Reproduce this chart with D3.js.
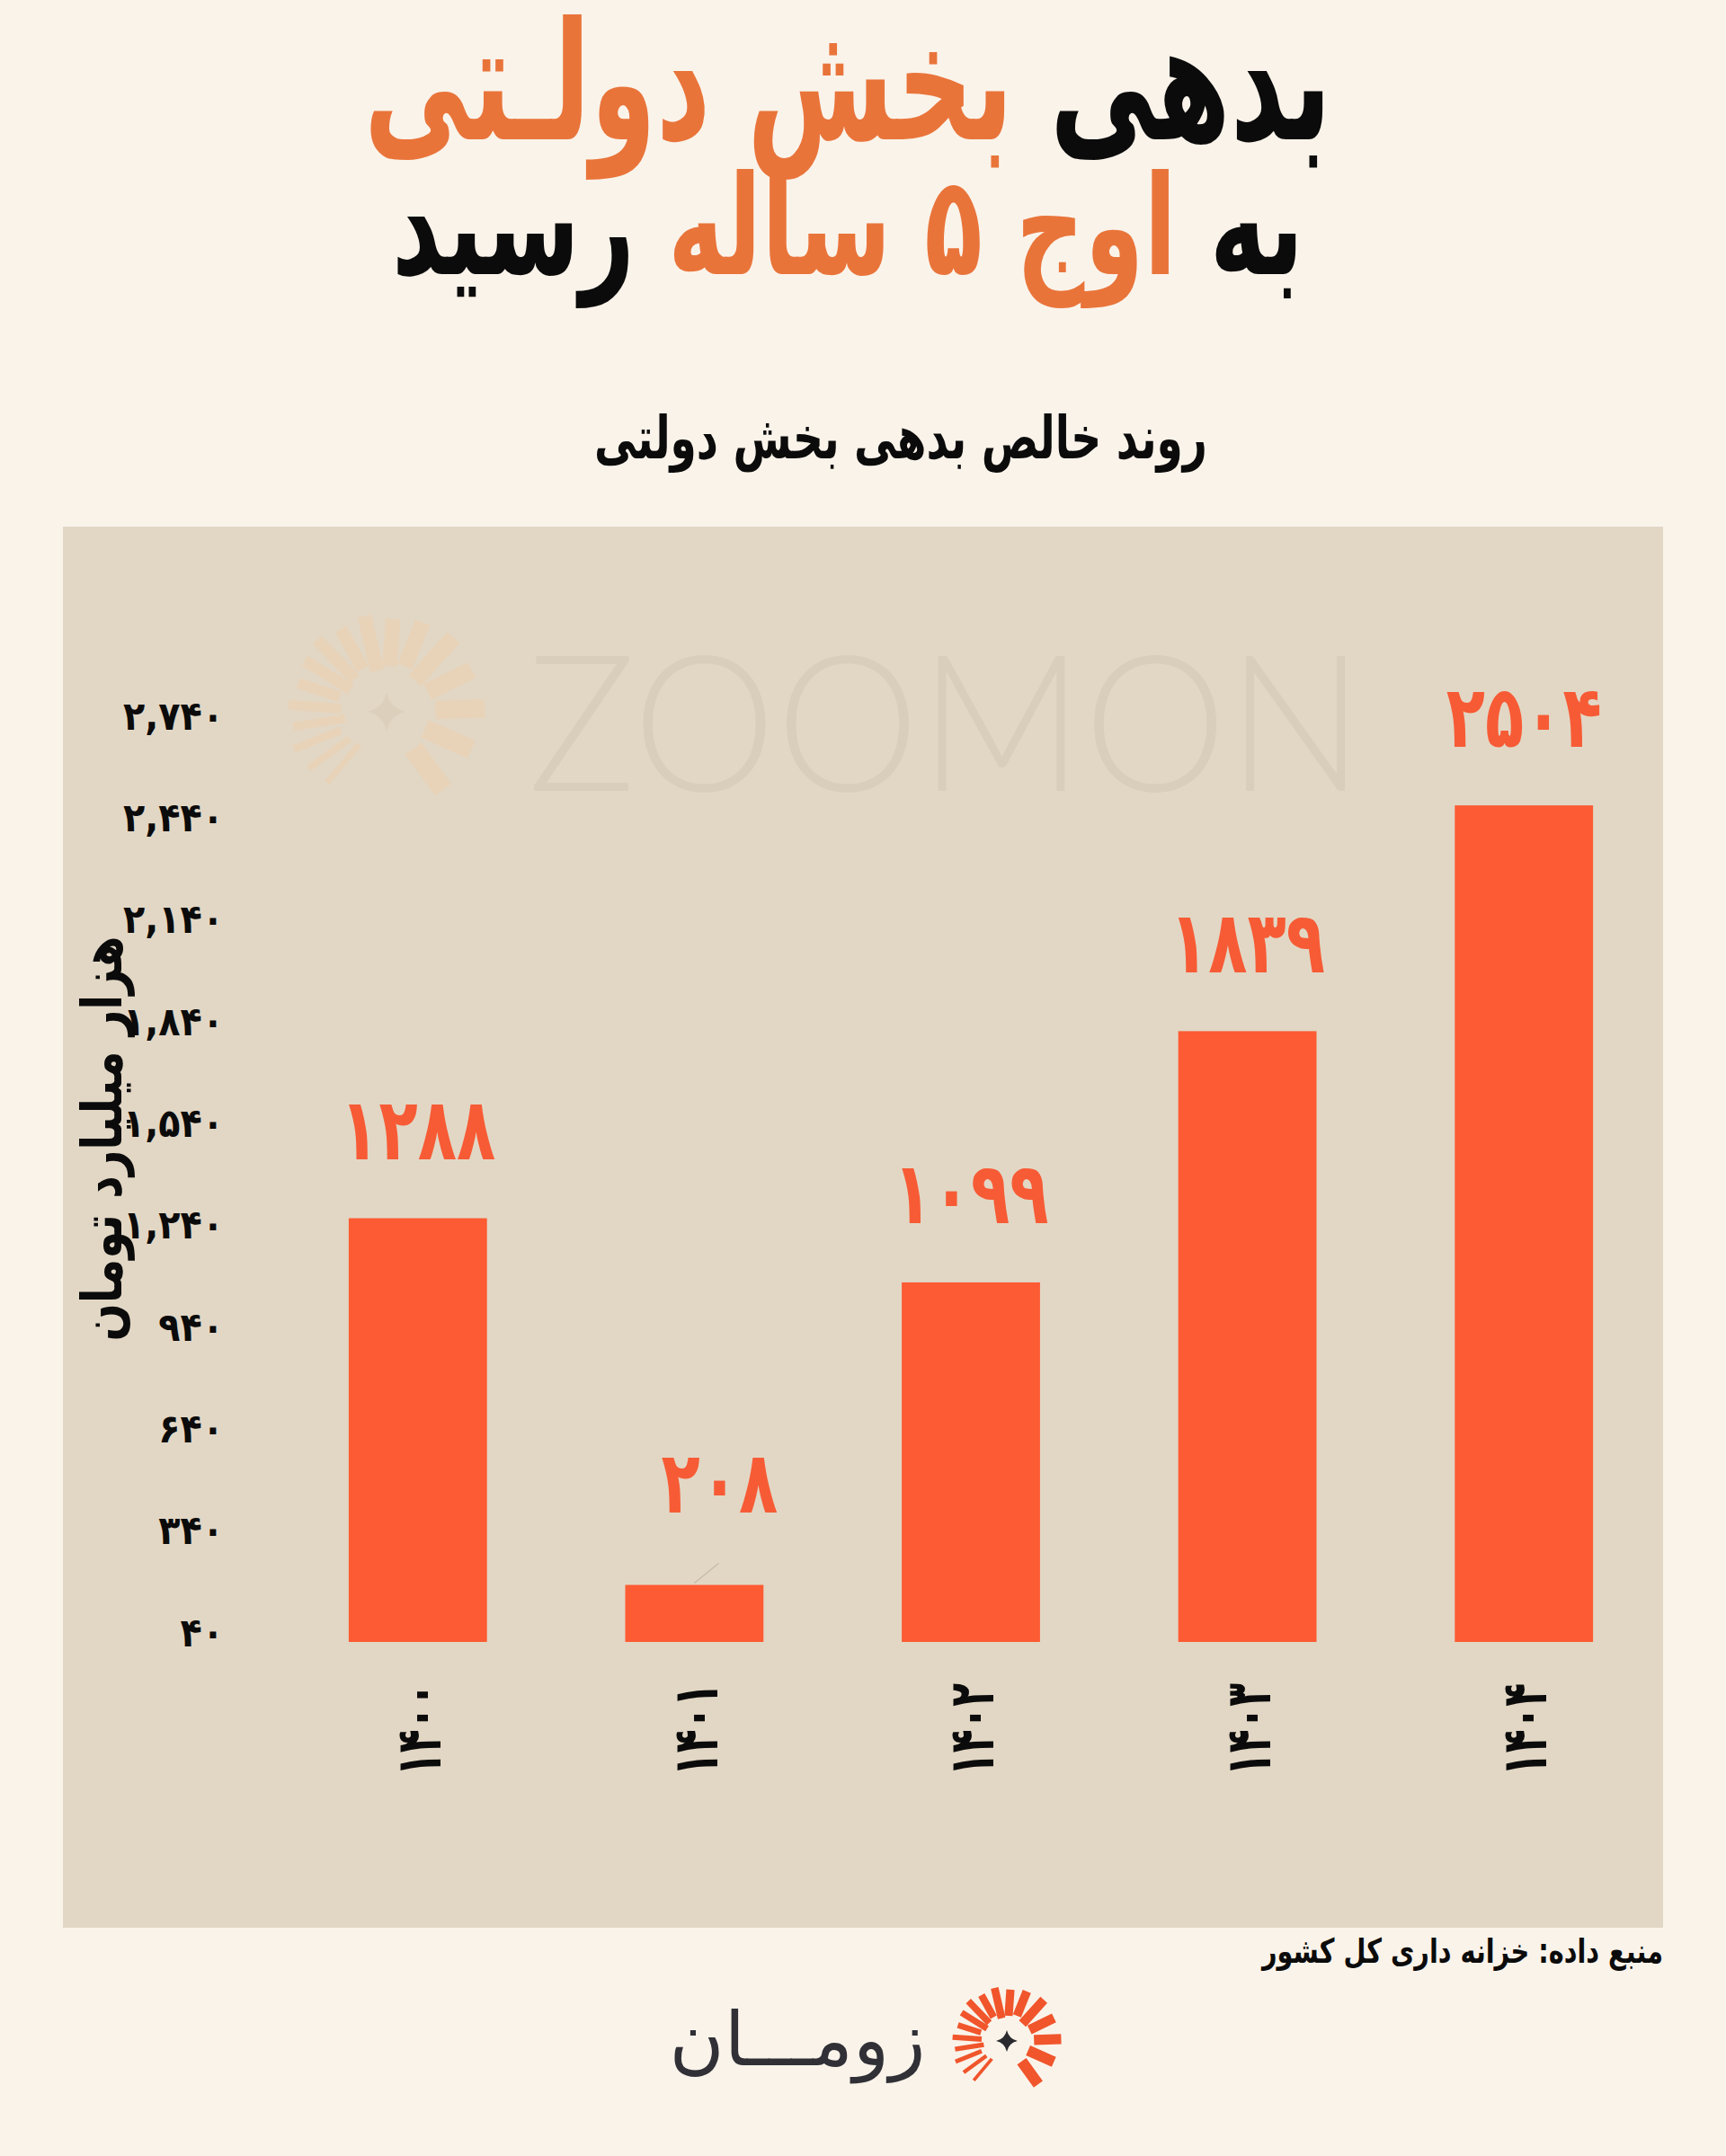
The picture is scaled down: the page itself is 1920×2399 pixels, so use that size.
<!DOCTYPE html>
<html><head><meta charset="utf-8">
<script src="https://cdn.jsdelivr.net/npm/d3@7"></script>
<style>html,body{margin:0;padding:0;background:#FAF3EA;} svg{display:block}</style>
</head><body><svg id="c" width="1920" height="2399"></svg>
<script>
// ---------- data ----------
const years = [1400, 1401, 1402, 1403, 1404];
const debtValues = [1288, 208, 1099, 1839, 2504];
const yTicks = [40, 340, 640, 940, 1240, 1540, 1840, 2140, 2440, 2740];
const titleLine1 = [["بدهی ", "k"], ["بخش دولـتی", "o"]];
const titleLine2 = [["به ", "k"], ["اوج ۵ ساله ", "o"], ["رسید", "k"]];
const subtitle = "روند خالص بدهی بخش دولتی";
const yTitle = "هزار میلیارد تومان";
const sourceText = "منبع داده: خزانه داری کل کشور";
const brandName = "زومـــان";

// ---------- helpers ----------
const fa = s => String(s).replace(/\d/g, d => "۰۱۲۳۴۵۶۷۸۹"[d]);
const FONT = "'DejaVu Sans', sans-serif";
const C = {bg:"#FAF3EA", panel:"#E2D7C5", bar:"#FC5B33", val:"#F75B35", orange:"#E9743A", black:"#0B0B0B", mark:"#D9CEBB"};
function fitWidth(sel, target){
  const w = sel.node().getComputedTextLength();
  const fs = parseFloat(sel.attr("font-size"));
  sel.attr("font-size", fs * target / w);
}
// fit width, then enlarge glyph height by k while keeping the width (condensed look)
function fitTall(sel, target, k){
  fitWidth(sel, target);
  sel.attr("font-size", parseFloat(sel.attr("font-size"))*k)
     .attr("textLength", target).attr("lengthAdjust","spacingAndGlyphs");
}
function squeeze(sel, factor){
  sel.each(function(){
    const w = this.getComputedTextLength();
    d3.select(this).attr("textLength", w*factor).attr("lengthAdjust","spacingAndGlyphs");
  });
}

const svg = d3.select("#c");
svg.append("rect").attr("width",1920).attr("height",2399).attr("fill",C.bg);

// ---------- title ----------
function rtlLine(parts, x, y, size, targetW, k){
  const t = svg.append("text").attr("x",x).attr("y",y).attr("direction","rtl")
    .attr("text-anchor","middle").attr("font-family",FONT).attr("font-weight","bold")
    .attr("font-size",size);
  parts.forEach(p => t.append("tspan").text(p[0]).attr("fill", p[1]==="o"?C.orange:C.black));
  fitTall(t, targetW, k);
  return t;
}
rtlLine(titleLine1, 943, 155, 120, 1076, 1.55);
rtlLine(titleLine2, 943, 305, 120, 1014, 1.45);

const sub = svg.append("text").attr("x",1002).attr("y",510).attr("direction","rtl")
  .attr("text-anchor","middle").attr("font-family",FONT).attr("font-weight","bold")
  .attr("font-size",48).attr("fill",C.black).text(subtitle);
fitTall(sub, 682, 1.4);

// ---------- panel ----------
svg.append("rect").attr("x",70).attr("y",586).attr("width",1780).attr("height",1559).attr("fill",C.panel);

// logo drawer
const rayAngles = [-140,-126,-112,-99,-86,-72,-58,-44,-29,-13,4,22,42,64,88,114,144];
function drawLogo(g, cx, cy, s, rayColor, starColor){
  const gg = g.append("g").attr("transform",`translate(${cx},${cy}) scale(${s})`);
  rayAngles.forEach((a,i) => {
    const r = a*Math.PI/180;
    const w = 3.5 + i*0.5;
    const rIn = 24 + (i%3)*2, rOut = 53 + ((i*7)%5);
    gg.append("line")
      .attr("x1", Math.sin(r)*rIn).attr("y1", -Math.cos(r)*rIn)
      .attr("x2", Math.sin(r)*rOut).attr("y2", -Math.cos(r)*rOut)
      .attr("stroke", rayColor).attr("stroke-width", w);
  });
  gg.append("path").attr("d","M0,-11 Q2,-2 11,0 Q2,2 0,11 Q-2,2 -11,0 Q-2,-2 0,-11Z").attr("fill",starColor);
}

// watermark
drawLogo(svg, 430, 792, 1.95, "#E8D3B9", "#DCCFBC");
svg.append("text").attr("x",587).attr("y",880).attr("font-family","Lato, sans-serif").attr("font-weight",300)
  .attr("font-size",212).attr("fill",C.mark).attr("textLength",930).attr("lengthAdjust","spacingAndGlyphs").text("ZOOMON");

// ---------- scales ----------
const x = d3.scaleBand().domain(years).range([311, 1849]).paddingInner(0.5).paddingOuter(0.25);
const y = d3.scaleLinear().domain([40, 2740]).range([1827, 807]);

// y axis
const yAxis = svg.append("g").attr("transform","translate(249,0)")
  .call(d3.axisLeft(y).tickValues(yTicks).tickSize(0).tickPadding(0).tickFormat(d => fa(d3.format(",")(d))));
yAxis.select(".domain").remove();
yAxis.selectAll("text").attr("font-family",FONT).attr("font-weight","bold").attr("font-size",44)
  .attr("fill",C.black).attr("dy","0.32em").attr("y",-10);
{
  const first = yAxis.selectAll("text").filter(d => d===2740).node();
  squeeze(yAxis.selectAll("text"), 112/first.getComputedTextLength());
}

// y title
const yt = svg.append("text").attr("transform","translate(113,1267) rotate(-90)").attr("direction","rtl")
  .attr("text-anchor","middle").attr("dy","0.35em").attr("font-family",FONT).attr("font-weight","bold")
  .attr("font-size",44).attr("fill",C.black).text(yTitle);
fitTall(yt, 451, 1.25);

// bars
const data = years.map((yr,i) => ({yr, v: debtValues[i]}));
svg.append("g").selectAll("rect").data(data).join("rect")
  .attr("x", d => x(d.yr)).attr("width", x.bandwidth())
  .attr("y", d => y(d.v)).attr("height", d => y(40) - y(d.v))
  .attr("fill", C.bar);

// value labels
const small = d => d.v < 500;
svg.append("g").selectAll("line").data(data.filter(small)).join("line")
  .attr("x1", d => x(d.yr)+x.bandwidth()/2).attr("y1", d => y(d.v)-2)
  .attr("x2", d => x(d.yr)+x.bandwidth()/2+27).attr("y2", d => y(d.v)-24)
  .attr("stroke","#C8BCA8").attr("stroke-width",1.5);
const vl = svg.append("g").selectAll("text").data(data).join("text")
  .attr("x", d => x(d.yr)+x.bandwidth()/2 + (small(d)?28:0))
  .attr("y", d => y(d.v) - (small(d)?115:100))
  .attr("dy","0.36em").attr("text-anchor","middle")
  .attr("font-family",FONT).attr("font-weight","bold").attr("font-size",96).attr("fill",C.val)
  .text(d => fa(d.v));
{
  const w0 = vl.filter(d => d.yr===1400).node().getComputedTextLength();
  squeeze(vl, 173/w0);
}

// category labels
const cl = svg.append("g").selectAll("text").data(years).join("text")
  .attr("transform", d => `translate(${x(d)+x.bandwidth()/2},1873) rotate(-90)`)
  .attr("text-anchor","end").attr("dy","0.36em")
  .attr("font-family",FONT).attr("font-weight","bold").attr("font-size",70).attr("fill",C.black)
  .text(d => fa(d));
{
  const w0 = cl.filter(d => d===1400).node().getComputedTextLength();
  squeeze(cl, 103/w0);
}

// ---------- footer ----------
const src = svg.append("text").attr("y",2184).attr("direction","rtl").attr("text-anchor","middle")
  .attr("font-family",FONT).attr("font-weight","bold").attr("font-size",30).attr("fill",C.black).text(sourceText);
fitTall(src, 446, 1.3);
src.attr("x", 1850 - 446/2);

drawLogo(svg, 1120, 2271, 1.08, "#F0552B", "#2A2A2E");
const bn = svg.append("text").attr("x",887).attr("y",2298).attr("direction","rtl").attr("text-anchor","middle")
  .attr("font-family",FONT).attr("font-size",100).attr("fill","#303036").text(brandName);
fitWidth(bn, 285);
</script></body></html>
